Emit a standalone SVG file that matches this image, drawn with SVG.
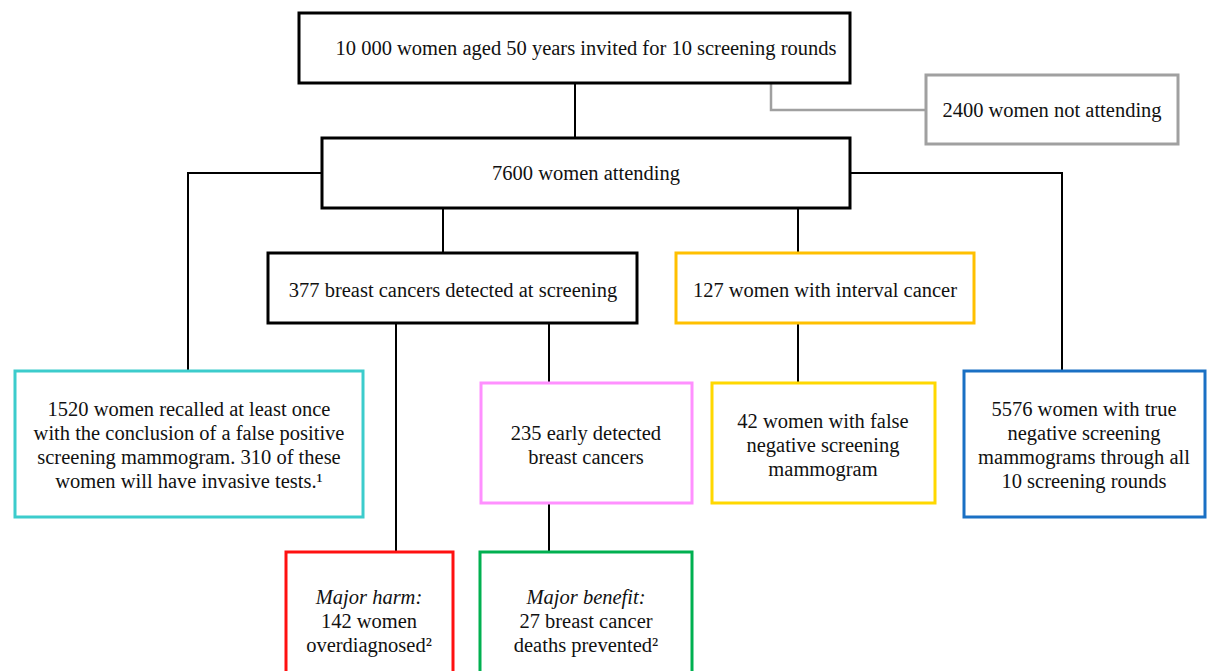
<svg xmlns="http://www.w3.org/2000/svg" width="1207" height="671" viewBox="0 0 1207 671">
<style>
.box{fill:#fff;stroke-width:3}
.k{stroke:#000}
.t{font-family:"Liberation Serif","Times New Roman",serif;font-size:20.5px;fill:#111;text-anchor:middle;dominant-baseline:central}
.i{font-style:italic}
.c{fill:none;stroke:#000;stroke-width:2}
</style>
<rect width="1207" height="671" fill="#fff"/>
<g id="connectors">
<path class="c" d="M575 83V138"/>
<path d="M771 83V110H926" fill="none" stroke="#a0a0a0" stroke-width="2.5"/>
<path class="c" d="M322 173H188V371"/>
<path class="c" d="M850 173H1062V371"/>
<path class="c" d="M443 208V253"/>
<path class="c" d="M798 208V253"/>
<path class="c" d="M396 323V552"/>
<path class="c" d="M549 323V383"/>
<path class="c" d="M798 323V383"/>
<path class="c" d="M549 503V552"/>
</g>
<g id="invited">
<rect class="box k" x="299" y="13" width="551" height="70"/>
<text class="t" x="586" y="48">10 000 women aged 50 years invited for 10 screening rounds</text>
</g>
<g id="not-attending">
<rect class="box" stroke="#a0a0a0" x="926" y="75" width="252" height="69"/>
<text class="t" x="1052" y="110">2400 women not attending</text>
</g>
<g id="attending">
<rect class="box k" x="322" y="138" width="528" height="70"/>
<text class="t" x="586" y="173">7600 women attending</text>
</g>
<g id="detected">
<rect class="box k" x="268" y="253" width="369" height="70"/>
<text class="t" x="453" y="290">377 breast cancers detected at screening</text>
</g>
<g id="interval">
<rect class="box" stroke="#FFC000" x="676" y="253" width="298" height="70"/>
<text class="t" x="825" y="290">127 women with interval cancer</text>
</g>
<g id="false-positive">
<rect class="box" stroke="#3CCCCC" x="15" y="371" width="348" height="146"/>
<text class="t" x="189" y="409">1520 women recalled at least once</text>
<text class="t" x="189" y="433">with the conclusion of a false positive</text>
<text class="t" x="189" y="457">screening mammogram. 310 of these</text>
<text class="t" x="189" y="481">women will have invasive tests.¹</text>
</g>
<g id="early-detected">
<rect class="box" stroke="#FF90FF" x="481" y="383" width="211" height="120"/>
<text class="t" x="586" y="433">235 early detected</text>
<text class="t" x="586" y="457">breast cancers</text>
</g>
<g id="false-negative">
<rect class="box" stroke="#FFD800" x="712" y="383" width="223" height="120"/>
<text class="t" x="823" y="421">42 women with false</text>
<text class="t" x="823" y="445">negative screening</text>
<text class="t" x="823" y="469">mammogram</text>
</g>
<g id="true-negative">
<rect class="box" stroke="#1A70C4" x="964" y="371" width="241" height="146"/>
<text class="t" x="1084" y="409">5576 women with true</text>
<text class="t" x="1084" y="433">negative screening</text>
<text class="t" x="1084" y="457">mammograms through all</text>
<text class="t" x="1084" y="481">10 screening rounds</text>
</g>
<g id="harm">
<rect class="box" stroke="#FF1010" x="286" y="552" width="167" height="130"/>
<text class="t i" x="369" y="597">Major harm:</text>
<text class="t" x="369" y="621">142 women</text>
<text class="t" x="369" y="645">overdiagnosed²</text>
</g>
<g id="benefit">
<rect class="box" stroke="#00B050" x="480" y="552" width="212" height="130"/>
<text class="t i" x="586" y="597">Major benefit:</text>
<text class="t" x="586" y="621">27 breast cancer</text>
<text class="t" x="586" y="645">deaths prevented²</text>
</g>
</svg>
